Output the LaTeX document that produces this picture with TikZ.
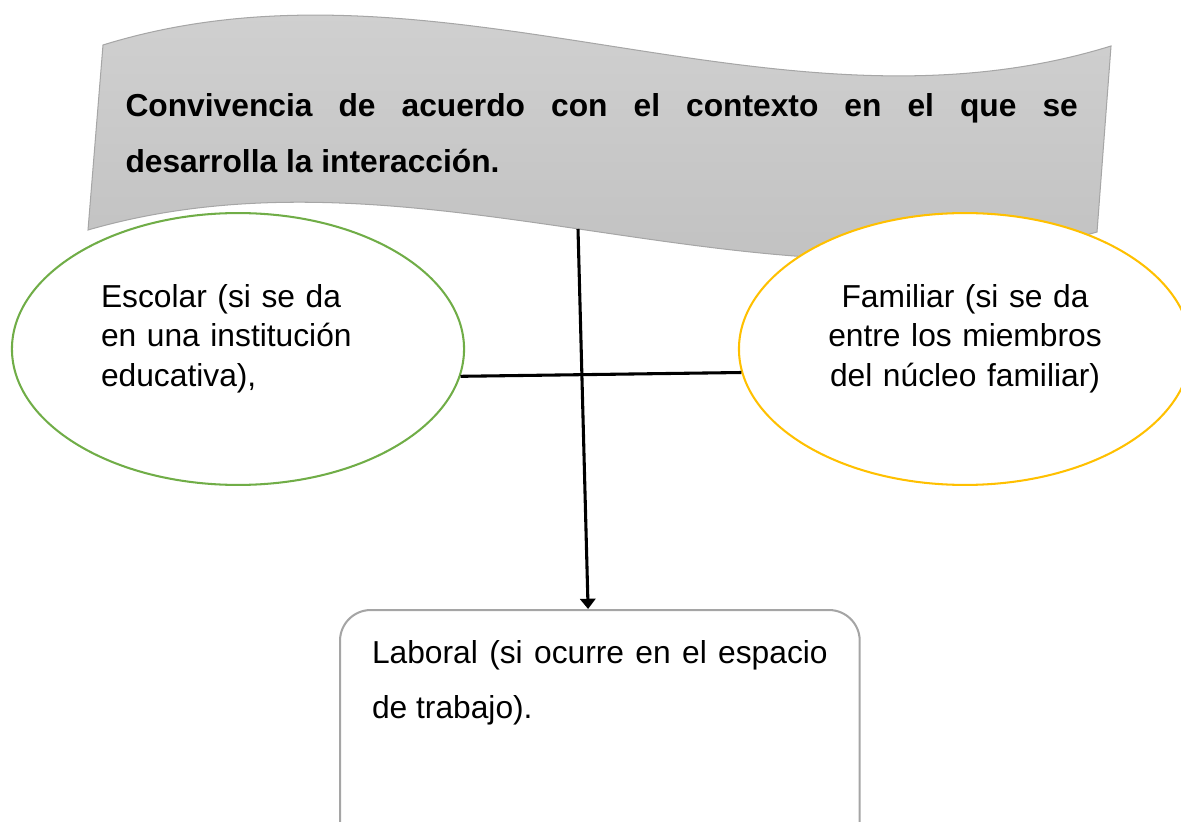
\documentclass[tikz,border=0pt]{standalone}
\usepackage{fontspec}
\setmainfont{Liberation Sans}
\usepackage{tikz}
\usetikzlibrary{shapes, arrows.meta, positioning,
                shapes.geometric
                }
\definecolor{schoolgreen}{HTML}{70AD47}
\definecolor{familygold}{HTML}{FFC000}
\definecolor{workgray}{HTML}{A5A5A5}
\definecolor{bannertop}{HTML}{D4D4D4}
\definecolor{bannerbot}{HTML}{BEBEBE}
\definecolor{bannerline}{HTML}{A6A6A6}
\hyphenpenalty=10000
\exhyphenpenalty=10000

\begin{document}
\begin{tikzpicture}
[
x=0.390625pt, y=-0.390625pt,
setting/.style={ellipse, line width=0.8pt, fill=white, inner sep=0pt,
                minimum width=176.6pt, minimum height=106.2pt,
                text height=9pt, text depth=41.8pt,
                font=\fontsize{12.4}{15.6}\selectfont},
school/.style={setting, draw=schoolgreen, text width=107pt, align=left},
family/.style={setting, draw=familygold, text width=115pt, align=center},
work/.style={rectangle, rounded corners=12pt, draw=workgray, line width=0.8pt,
             text width=178pt, align=justify, inner xsep=12.5pt, inner ysep=9.7pt,
             text height=11pt, text depth=80pt,
             font=\fontsize{12.4}{21.5}\selectfont},
link/.style={line width=1.2pt, black}
]

    \useasboundingbox (0,0) rectangle (1181,822);
    \clip (0,0) rectangle (1181,822);

    \shadedraw[top color=bannertop, bottom color=bannerbot, draw=bannerline, line width=0.4pt]
      (103,45) .. controls (439,-59) and (775,150) .. (1111,46)
      -- (1097,232) .. controls (761,329) and (424,133) .. (88,230) -- cycle;
    \node[anchor=base west, inner sep=0pt, text width=372pt, align=justify,
          font=\bfseries\fontsize{12.4}{21.5}\selectfont] (conv) at (125,117)
      {Convivencia de acuerdo con el contexto en el que se\linebreak desarrolla la interacción.};
    \coordinate (drop) at (578,229);

    \node[school] (esc) at (238,349) {Escolar (si se da\\ en una institución\\ educativa),};
    \node[family] (fam) at (965,349) {Familiar (si se da\\ entre los miembros\\ del núcleo familiar)};
    \node[work, anchor=north west] (lab) at (339,609) {Laboral (si ocurre en el espacio\linebreak de trabajo).};

    \draw[link] (esc.-7) -- (fam.186);
    \draw[link, -{Triangle[width=6pt, length=4pt]}] (drop) -- ([xshift=-4.6pt]lab.north);
\end{tikzpicture}
\end{document}
